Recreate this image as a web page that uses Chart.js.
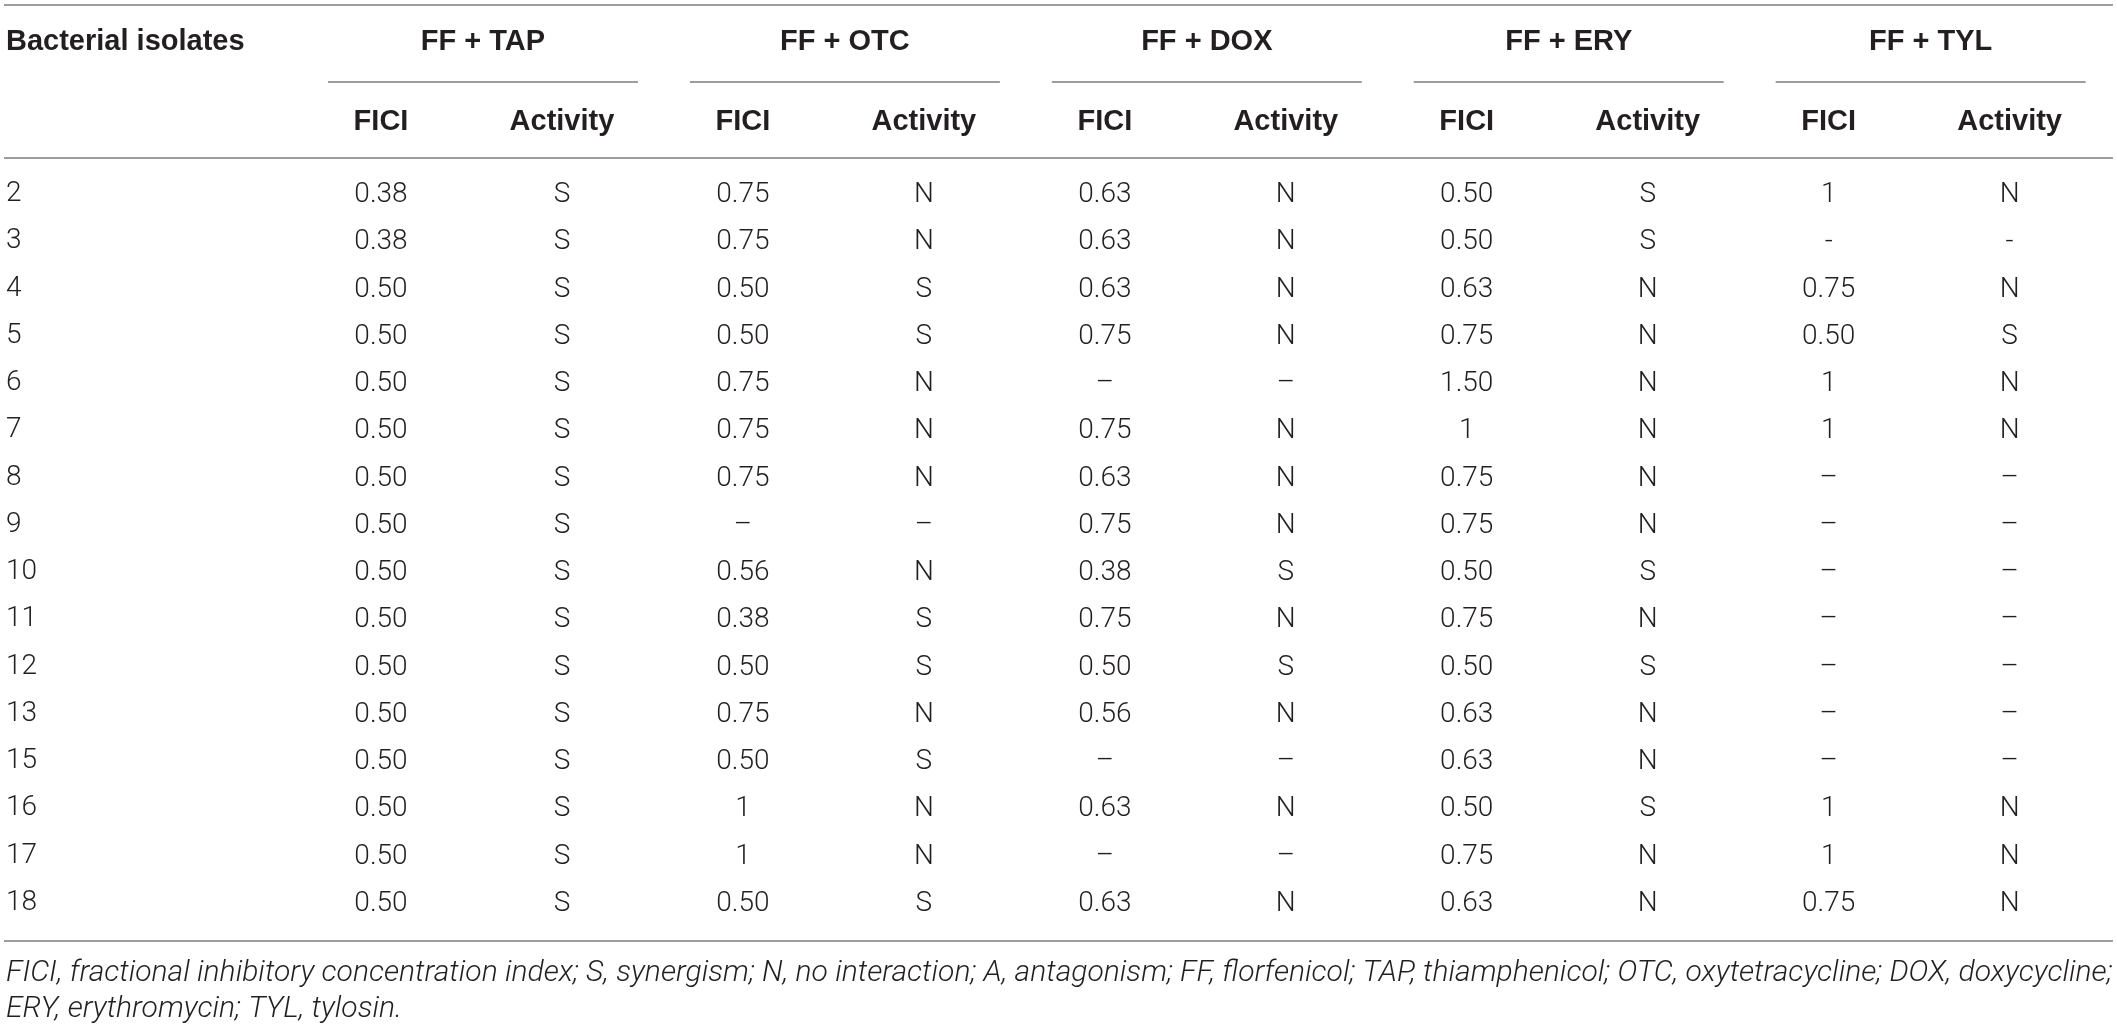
<!DOCTYPE html>
<html>
<head>
<meta charset="utf-8">
<title>FICI of florfenicol combinations</title>
<script src="https://cdn.jsdelivr.net/npm/chart.js@4.4.1/dist/chart.umd.min.js"></script>
<style>
  html, body { margin: 0; padding: 0; background: #ffffff; }
  .chart-wrap { position: relative; width: 2117px; height: 1025px; }
</style>
</head>
<body>
<div class="chart-wrap"><canvas id="ficiTableChart"></canvas></div>
<script>
// Table content
const rowHeader = 'Bacterial isolates';
const isolates = ['2', '3', '4', '5', '6', '7', '8', '9', '10', '11', '12', '13', '15', '16', '17', '18'];
const combinations = ['FF + TAP', 'FF + OTC', 'FF + DOX', 'FF + ERY', 'FF + TYL'];
const subHeaders = ['FICI', 'Activity'];

const tapFici = ['0.38', '0.38', '0.50', '0.50', '0.50', '0.50', '0.50', '0.50', '0.50', '0.50', '0.50', '0.50', '0.50', '0.50', '0.50', '0.50'];
const tapActivity = ['S', 'S', 'S', 'S', 'S', 'S', 'S', 'S', 'S', 'S', 'S', 'S', 'S', 'S', 'S', 'S'];
const otcFici = ['0.75', '0.75', '0.50', '0.50', '0.75', '0.75', '0.75', '–', '0.56', '0.38', '0.50', '0.75', '0.50', '1', '1', '0.50'];
const otcActivity = ['N', 'N', 'S', 'S', 'N', 'N', 'N', '–', 'N', 'S', 'S', 'N', 'S', 'N', 'N', 'S'];
const doxFici = ['0.63', '0.63', '0.63', '0.75', '–', '0.75', '0.63', '0.75', '0.38', '0.75', '0.50', '0.56', '–', '0.63', '–', '0.63'];
const doxActivity = ['N', 'N', 'N', 'N', '–', 'N', 'N', 'N', 'S', 'N', 'S', 'N', '–', 'N', '–', 'N'];
const eryFici = ['0.50', '0.50', '0.63', '0.75', '1.50', '1', '0.75', '0.75', '0.50', '0.75', '0.50', '0.63', '0.63', '0.50', '0.75', '0.63'];
const eryActivity = ['S', 'S', 'N', 'N', 'N', 'N', 'N', 'N', 'S', 'N', 'S', 'N', 'N', 'S', 'N', 'N'];
const tylFici = ['1', '-', '0.75', '0.50', '1', '1', '–', '–', '–', '–', '–', '–', '–', '1', '1', '0.75'];
const tylActivity = ['N', '-', 'N', 'S', 'N', 'N', '–', '–', '–', '–', '–', '–', '–', 'N', 'N', 'N'];

const footnoteLines = [
  'FICI, fractional inhibitory concentration index; S, synergism; N, no interaction; A, antagonism; FF, florfenicol; TAP, thiamphenicol; OTC, oxytetracycline; DOX, doxycycline;',
  'ERY, erythromycin; TYL, tylosin.'
];

const TEXT_COLOR = '#231f20';
const RULE_COLOR = '#7d7d7d';
const BOLD_FONT = 'bold 29px "Liberation Sans", Arial, sans-serif';
const BODY_FAMILY = 'Roboto, "Liberation Sans", sans-serif';

document.addEventListener('DOMContentLoaded', function() {
  initFiciTableChart();
});

/**
 * Draw header rules, group titles, cell texts and the footnote
 */
const tableDecorPlugin = {
  id: 'tableDecor',
  afterDatasetsDraw(chart) {
    const ctx = chart.ctx;
    const area = chart.chartArea;
    const xs = chart.scales.x;
    const tableLeft = 4;
    const tableRight = chart.width - 4;

    ctx.save();

    // cell values, placed on the points the library positioned
    ctx.fillStyle = TEXT_COLOR;
    ctx.font = '300 28px ' + BODY_FAMILY;
    ctx.textAlign = 'center';
    ctx.textBaseline = 'middle';
    chart.data.datasets.forEach((ds, di) => {
      const meta = chart.getDatasetMeta(di);
      meta.data.forEach((pt, i) => {
        ctx.fillText(ds.cellText[i], pt.x, pt.y + 1);
      });
    });

    // horizontal rules
    ctx.strokeStyle = RULE_COLOR;
    ctx.lineWidth = 1.5;
    const hline = (x1, x2, y) => {
      ctx.beginPath();
      ctx.moveTo(x1, y);
      ctx.lineTo(x2, y);
      ctx.stroke();
    };
    hline(tableLeft, tableRight, 5);
    hline(tableLeft, tableRight, area.top - 36);
    hline(tableLeft, tableRight, area.bottom + 38);

    // row header + combination titles
    ctx.font = BOLD_FONT;
    ctx.textAlign = 'left';
    ctx.fillText(rowHeader, 6, 42);
    ctx.textAlign = 'center';
    combinations.forEach((name, g) => {
      const xF = xs.getPixelForTick(g * 2);
      const xA = xs.getPixelForTick(g * 2 + 1);
      const start = xF - 53;
      const end = Math.min(xA + 76, tableRight - 1);
      hline(start, end, 82);
      ctx.fillText(name, (start + end) / 2, 42);
    });

    // footnote, first line runs the full table width
    ctx.font = 'italic 300 27px ' + BODY_FAMILY;
    const fullWidth = ctx.measureText(footnoteLines[0]).width;
    const noteSize = 27 * (tableRight - 6) / fullWidth;
    ctx.font = 'italic 300 ' + noteSize.toFixed(2) + 'px ' + BODY_FAMILY;
    ctx.textAlign = 'left';
    footnoteLines.forEach((line, i) => {
      ctx.fillText(line, 6, area.bottom + 70 + i * 36);
    });

    ctx.restore();
  }
};

/**
 * Build the table as a chart: one invisible point series per column
 */
function initFiciTableChart() {
  const ctx = document.getElementById('ficiTableChart');
  if (!ctx) return;

  const columns = [tapFici, tapActivity, otcFici, otcActivity, doxFici, doxActivity, eryFici, eryActivity, tylFici, tylActivity];
  const columnKeys = [];
  combinations.forEach(name => {
    subHeaders.forEach(sub => columnKeys.push(name + ' ' + sub));
  });

  const datasets = columns.map((values, c) => ({
    label: columnKeys[c],
    data: isolates.map(row => ({ x: columnKeys[c], y: row })),
    cellText: values,
    showLine: false,
    pointRadius: 0,
    pointHoverRadius: 0
  }));

  const chart = new Chart(ctx, {
    type: 'line',
    data: { datasets: datasets },
    options: {
      responsive: true,
      maintainAspectRatio: false,
      animation: false,
      events: [],
      layout: {
        padding: { left: 6, right: 57, top: 105, bottom: 122 }
      },
      plugins: {
        legend: { display: false },
        tooltip: { enabled: false },
        title: { display: false }
      },
      scales: {
        x: {
          type: 'category',
          position: 'top',
          labels: columnKeys,
          offset: false,
          grid: { display: false, drawTicks: false },
          border: { display: false },
          ticks: {
            autoSkip: false,
            maxRotation: 0,
            padding: 55,
            color: TEXT_COLOR,
            font: { family: '"Liberation Sans", Arial, sans-serif', weight: 'bold', size: 29, lineHeight: 1.2 },
            callback: function(value, index) {
              return subHeaders[index % 2];
            }
          },
          afterFit: function(scale) {
            scale.height = 89;
          }
        },
        y: {
          type: 'category',
          position: 'left',
          labels: isolates,
          offset: false,
          grid: { display: false, drawTicks: false },
          border: { display: false },
          ticks: {
            autoSkip: false,
            crossAlign: 'far',
            padding: 0,
            color: TEXT_COLOR,
            font: { family: BODY_FAMILY, weight: 300, size: 28, lineHeight: 1.2 }
          },
          afterFit: function(scale) {
            scale.width = 375;
          }
        }
      }
    },
    plugins: [tableDecorPlugin]
  });
}
</script>
</body>
</html>
